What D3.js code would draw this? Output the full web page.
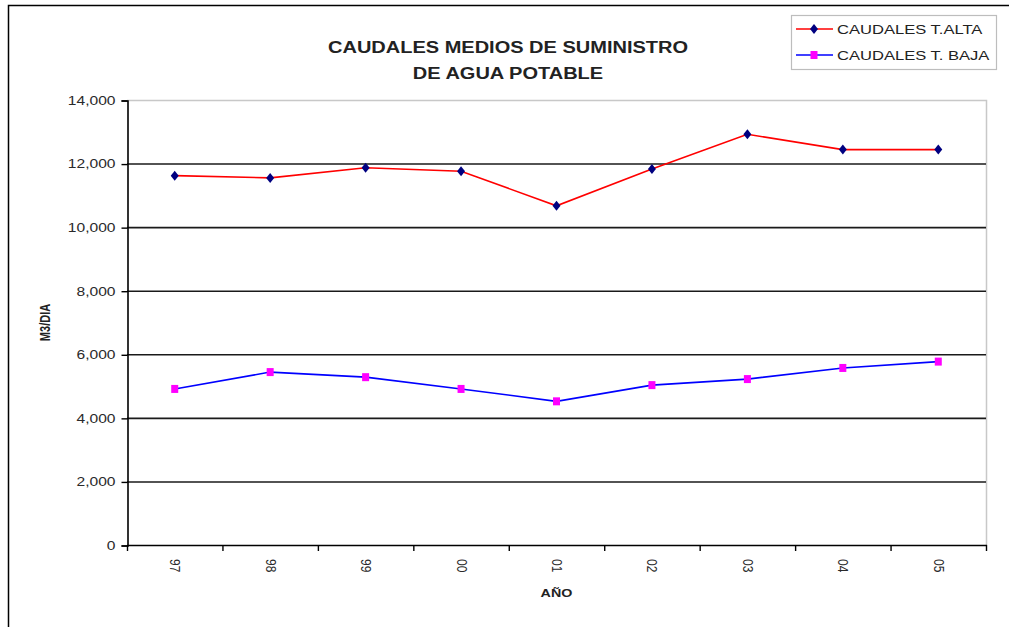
<!DOCTYPE html>
<html>
<head>
<meta charset="utf-8">
<script src="https://cdn.jsdelivr.net/npm/d3@7"></script>
<style>
  html, body { margin: 0; padding: 0; background: #fff; }
  svg { display: block; }
  text { font-family: "Liberation Sans", Arial, sans-serif; }
</style>
</head>
<body>
<svg id="chart" width="1009" height="627"></svg>
<script>
// ---- data ----
const categories = ["97", "98", "99", "00", "01", "02", "03", "04", "05"];
const caudalesAlta = [11620, 11550, 11870, 11760, 10670, 11830, 12920, 12440, 12440];
const caudalesBaja = [4910, 5440, 5280, 4910, 4520, 5030, 5220, 5570, 5770];
const yTicks = [0, 2000, 4000, 6000, 8000, 10000, 12000, 14000];
const seriesNames = ["CAUDALES T.ALTA", "CAUDALES T. BAJA"];
const titleLines = ["CAUDALES MEDIOS DE SUMINISTRO", "DE AGUA POTABLE"];
const xTitle = "AÑO";
const yTitle = "M3/DIA";

// ---- layout ----
const W = 1009, H = 627;
const plot = { left: 127, right: 986, top: 100, bottom: 545 };
const SX = 1.3; // horizontal stretch of the reference text

const svg = d3.select("#chart");
svg.append("rect").attr("width", W).attr("height", H).attr("fill", "#fff");

// outer frame (only left and top visible)
svg.append("path")
  .attr("d", `M8.5,${H} V5.5 H${W}`)
  .attr("fill", "none").attr("stroke", "#000").attr("stroke-width", 1.5);

const x = d3.scaleBand().domain(categories).range([plot.left, plot.right]).padding(0);
const y = d3.scaleLinear().domain([0, 14000]).range([plot.bottom, plot.top]);
const cx = d => x(d) + x.bandwidth() / 2;

// plot area border (gray top & right)
svg.append("path")
  .attr("d", `M${plot.left},${y(14000) + 0.5} H${plot.right + 0.5} V${plot.bottom}`)
  .attr("fill", "none").attr("stroke", "#c8c8c8").attr("stroke-width", 1.5);

// gridlines
svg.append("g").selectAll("line")
  .data(yTicks.filter(v => v > 0 && v < 14000))
  .join("line")
  .attr("x1", plot.left).attr("x2", plot.right)
  .attr("y1", d => y(d) + 0.5).attr("y2", d => y(d) + 0.5)
  .attr("stroke", "#1a1a1a").attr("stroke-width", 1.6);

// y axis
const yAxis = d3.axisLeft(y).tickValues(yTicks).tickFormat(d3.format(",")).tickSize(6).tickPadding(8);
const gy = svg.append("g").attr("transform", `translate(${plot.left + 0.5},0.5)`).call(yAxis);
gy.select(".domain").attr("stroke", "#000").attr("stroke-width", 1.6);
gy.selectAll(".tick line").attr("stroke", "#000").attr("stroke-width", 1.4);
gy.selectAll(".tick text")
  .attr("font-size", 12).attr("fill", "#2a2a2a")
  .each(function () {
    const t = d3.select(this);
    const xx = +t.attr("x");
    t.attr("x", null).attr("transform", `translate(${xx + 2},0) scale(${SX},1)`);
  });

// x axis line
svg.append("line")
  .attr("x1", plot.left).attr("x2", plot.right + 1)
  .attr("y1", plot.bottom + 0.5).attr("y2", plot.bottom + 0.5)
  .attr("stroke", "#000").attr("stroke-width", 1.6);
// x ticks at band boundaries
const bounds = categories.map(c => x(c)).concat([x.range()[1]]);
svg.append("g").selectAll("line").data(bounds).join("line")
  .attr("x1", d => d + 0.5).attr("x2", d => d + 0.5)
  .attr("y1", plot.bottom).attr("y2", plot.bottom + 6)
  .attr("stroke", "#000").attr("stroke-width", 1.4);
// x labels (rotated)
svg.append("g").selectAll("text").data(categories).join("text")
  .attr("transform", d => `translate(${cx(d) - 4.5},${plot.bottom + 14}) rotate(90) scale(1,1.2)`)
  .attr("font-size", 12).attr("fill", "#2a2a2a")
  .attr("text-anchor", "start")
  .text(d => d);

// axis titles
svg.append("text")
  .attr("transform", `translate(${(plot.left + plot.right) / 2},597) scale(${SX},1)`)
  .attr("text-anchor", "middle").attr("font-size", 11).attr("font-weight", "bold").attr("fill", "#222")
  .text(xTitle);
svg.append("text")
  .attr("transform", `translate(50,${(plot.top + plot.bottom) / 2}) rotate(-90) scale(1,${SX})`)
  .attr("text-anchor", "middle").attr("font-size", 11).attr("font-weight", "bold").attr("fill", "#222")
  .text(yTitle);

// title
svg.append("g").selectAll("text").data(titleLines).join("text")
  .attr("transform", (d, i) => `translate(508,${53 + i * 26}) scale(1.25,1)`)
  .attr("text-anchor", "middle").attr("font-size", 16).attr("font-weight", "bold").attr("fill", "#222")
  .text(d => d);

// lines
const line = d3.line().x((d, i) => cx(categories[i])).y(d => y(d));
svg.append("path").datum(caudalesAlta).attr("d", line)
  .attr("fill", "none").attr("stroke", "#ff0000").attr("stroke-width", 1.6);
svg.append("path").datum(caudalesBaja).attr("d", line)
  .attr("fill", "none").attr("stroke", "#0000ff").attr("stroke-width", 1.6);

const diamond = (px, py, r) => `M${px},${py - r} L${px + r * 0.8},${py} L${px},${py + r} L${px - r * 0.8},${py} Z`;
svg.append("g").selectAll("path").data(caudalesAlta).join("path")
  .attr("d", (d, i) => diamond(cx(categories[i]), y(d), 5))
  .attr("fill", "#000080");
svg.append("g").selectAll("rect").data(caudalesBaja).join("rect")
  .attr("x", (d, i) => cx(categories[i]) - 3.5).attr("y", d => y(d) - 4)
  .attr("width", 7).attr("height", 8)
  .attr("fill", "#ff00ff");

// legend
const lg = svg.append("g");
lg.append("rect").attr("x", 791.5).attr("y", 15.5).attr("width", 205).attr("height", 54)
  .attr("fill", "#fff").attr("stroke", "#bdbdbd").attr("stroke-width", 1.2);
const legendColors = [["#ff0000", "#000080"], ["#0000ff", "#ff00ff"]];
seriesNames.forEach((name, i) => {
  const ly = 29 + i * 26;
  lg.append("line").attr("x1", 796).attr("x2", 833).attr("y1", ly).attr("y2", ly)
    .attr("stroke", legendColors[i][0]).attr("stroke-width", 1.6);
  if (i === 0) {
    lg.append("path").attr("d", diamond(814, ly, 5)).attr("fill", legendColors[i][1]);
  } else {
    lg.append("rect").attr("x", 810.5).attr("y", ly - 4).attr("width", 7).attr("height", 8).attr("fill", legendColors[i][1]);
  }
  lg.append("text")
    .attr("transform", `translate(837,${ly + 4.5}) scale(1.38,1)`)
    .attr("font-size", 12).attr("fill", "#222")
    .text(name);
});
</script>
</body>
</html>
